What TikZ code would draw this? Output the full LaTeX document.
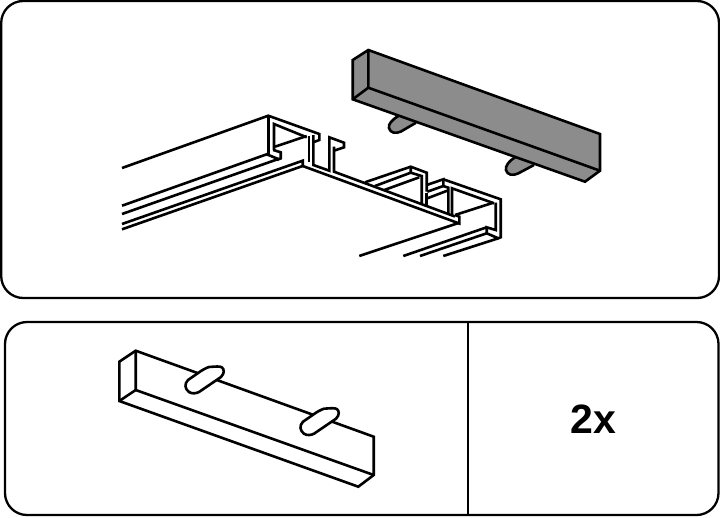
\documentclass[tikz,border=0pt]{standalone}
\usepackage{fontspec}
\setmainfont{Liberation Sans}
\definecolor{bargray}{HTML}{8C8C8C}
\tikzset{
  frame/.style={draw=black,line width=2.3pt,rounded corners=22pt},
  ink/.style={draw=black,line width=2.6pt,line join=miter,line cap=butt},
  filled/.style={ink,fill=bargray},
}
\begin{document}
\begin{tikzpicture}[x=1pt,y=-1pt]
\useasboundingbox (0,0) rectangle (720,517);
% panels
\draw[frame] (1.2,1) rectangle (719,298);
\draw[frame] (5,322) rectangle (718.5,515);
\draw[draw=black,line width=2.2pt] (468,322) -- (468,515);
\node[font=\bfseries\fontsize{41}{41}\selectfont,inner sep=0pt] (twox) at (593.5,419) {2x};
% gray bar pins
\draw[filled] (398.3,116) .. controls (392,120) and (388,124) .. (389,128) .. controls (390,133) and (396,134) .. (401,131.5) -- (416,122.7);
\draw[filled] (515,157.3) .. controls (509,161) and (505,166) .. (506,170) .. controls (507,175) and (513,176) .. (518,173.5) -- (534,165);
% gray bar
\draw[filled] (368.3,50) -- (600,134) -- (600,170.7) -- (585,181.7) -- (352.7,99.3) -- (352.7,60) -- cycle;
\draw[ink] (368.3,50) -- (368.3,87.7) -- (600,170.7);
\draw[ink] (368.3,87.7) -- (352.7,99.3);
% left rail
\draw[ink] (122,168) -- (268.3,115.7) -- (319.3,134) -- (319.3,140) -- (314,142);
\draw[ink] (268.3,115.7) -- (268.3,154.3);
\draw[ink] (274,150) -- (274,124) -- (306.7,137.3);
\draw[ink] (275,146.7) -- (306.7,136);
\draw[ink] (309,136) -- (309,161.7);
\draw[ink] (313.3,135) -- (313.3,165) -- (329.3,170.7) -- (329.3,137.3) -- (344,142.7) -- (344,147.3) -- (334,150.7);
\draw[ink] (334,146.7) -- (334,171.7) -- (455,216.5);
\draw[ink] (122,205.7) -- (266.7,154.3) -- (278.3,159) -- (122,214);
\draw[ink] (273.3,150) -- (280.7,152.3) -- (280.7,158.3) -- (276.7,160);
\draw[ink] (122,224) -- (302.7,160.7) -- (302.7,166) -- (122,229.3);
\draw[ink] (302.7,166) -- (459.3,223.5) -- (459.3,216.7) -- (455,215);
% right rail
\draw[ink] (365,182.3) -- (410.7,166.7) -- (426.7,172.7) -- (426.7,191.7);
\draw[ink] (410.7,166.7) -- (410.7,172.7) -- (421.7,176) -- (421.7,204);
\draw[ink] (375,186) -- (410.7,172.7);
\draw[ink] (384.3,190) -- (419.3,177.3);
\draw[ink] (426.7,185) -- (443.3,179.3) -- (443.3,186) -- (427.3,191.7);
\draw[ink] (443.3,186) -- (448.3,187.7) -- (448.3,213.3);
\draw[ink] (426.7,193) -- (426.7,206.7);
\draw[ink] (427.3,198.3) -- (447.3,190.7);
\draw[ink] (443.3,179.3) -- (500.7,199.3) -- (500.7,237.3) -- (498.3,238.3) -- (486.7,233.3) -- (486.7,227.3) -- (495.7,230) -- (495.7,202.7);
\draw[ink] (452,215) -- (452,188.3) -- (494,203.3);
\draw[ink] (455,215) -- (493.3,202.7);
\draw[ink] (459.3,222.7) -- (359.3,256);
\draw[ink] (486.7,227.3) -- (403.3,256);
\draw[ink] (486.7,233.3) -- (420,256);
\draw[ink] (498.3,238.3) -- (443.3,256);
% white bar
\draw[ink] (135.7,350.7) -- (373.7,436.7) -- (373.7,475) -- (358.3,486.7) -- (119.3,401) -- (119.3,361.7) -- cycle;
\draw[ink] (135.7,350.7) -- (135.7,390) -- (373.7,475);
\draw[ink] (135.7,390) -- (119.3,401);
% white pins
\draw[ink,fill=white] (197.7,373.3) -- (188,380) .. controls (184,384) and (185,389) .. (189,392) .. controls (192,394) and (196,393.5) .. (199,392) -- (221,377) .. controls (225,373) and (224,369) .. (222,367.5) .. controls (220,366) and (216,366.5) .. (209,367) .. controls (206,368) and (202,370) .. (197.7,373.3) -- cycle;
\draw[ink,fill=white] (312.7,415) -- (303,421.7) .. controls (299,425.7) and (300,430.7) .. (304,433.7) .. controls (307,435.7) and (311,435.2) .. (314,433.7) -- (336,418.7) .. controls (340,414.7) and (339,410.7) .. (337,409.2) .. controls (335,407.7) and (331,408.2) .. (324,408.7) .. controls (321,409.7) and (317,411.7) .. (312.7,415) -- cycle;
\end{tikzpicture}
\end{document}
